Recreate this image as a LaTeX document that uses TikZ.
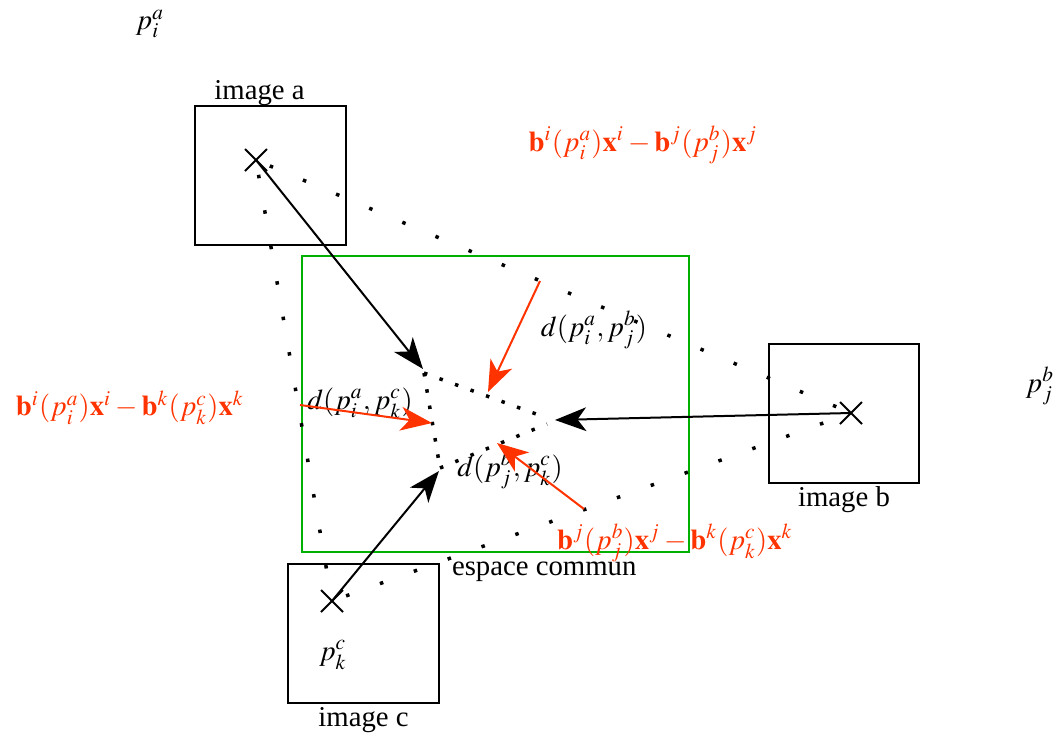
\documentclass[tikz,border=0pt]{standalone}
\usepackage{mathptmx}
\usepackage[no-math]{fontspec}
\setmainfont{Liberation Serif}
\usepackage{tikz}
\usetikzlibrary{arrows.meta,positioning,shapes.misc}
\definecolor{espred}{HTML}{FF3300}
\definecolor{espgreen}{HTML}{00B000}
\tikzset{
  esp/img/.style={
    draw=black, line width=0.8pt, inner sep=0pt,
    minimum width=60pt, minimum height=55.6pt
  },
  esp/common/.style={
    draw=espgreen, line width=0.8pt, inner sep=0pt,
    minimum width=154.8pt, minimum height=118.4pt
  },
  esp/cross/.style={draw=black, cross out, line width=0.8pt, minimum size=8pt, inner sep=0pt},
  esp/label/.style={inner sep=1pt},
  esp/dots/.style={line width=1.4pt, dash pattern=on 1.4pt off 13pt, dash phase=-6pt},
  esp/fine/.style={line width=1.4pt, dash pattern=on 1.4pt off 5.2pt},
  esp/arr/.style={-{Stealth[length=12.5pt, width=9.5pt, inset=3.5pt]}, black, line width=0.8pt},
  esp/rarr/.style={-{Stealth[length=12.5pt, width=9.5pt, inset=3.5pt]}, espred, line width=0.8pt}
}

\begin{document}
\begin{tikzpicture}[x=0.4pt, y=-0.4pt, font=\fontsize{11.5}{13}\selectfont]
  \useasboundingbox (0,0) rectangle (1056,734);

  % espace commun et images
  \node[esp/common] (esp) at (495.5,404) {};
  \node[esp/img] (imga) at (270.5,175) {};
  \node[esp/img] (imgb) at (844,413.5) {};
  \node[esp/img] (imgc) at (363.5,633.5) {};

  \node[esp/label, above=-1.5pt of imga, xshift=-4.4pt] (laba) {image a};
  \node[esp/label, below=0pt of imgb] (labb) {image b};
  \node[esp/label, below=0pt of imgc] (labc) {image c};
  \node[esp/label, anchor=west] (labesp) at (449,572) {espace commun};

  % points et projections
  \node[esp/cross] (xa) at (256,160) {};
  \node[esp/cross] (xb) at (851,413) {};
  \node[esp/cross] (xc) at (332,601) {};
  \coordinate (ta) at (423,369);
  \coordinate (tb) at (555,420);
  \coordinate (tc) at (439,471);

  \node (pa) at (150,24) {$p^a_i$};
  \node (pb) at (1040,386) {$p^b_j$};
  \node (pc) at (333,655) {$p^c_k$};

  % lignes pointillees
  \draw[esp/dots] (xa.center) -- (xb.center);
  \draw[esp/dots] (xa.center) -- (xc.center);
  \draw[esp/dots] (xc.center) -- (xb.center);
  \draw[esp/fine] (424,373) -- (547,418);
  \draw[esp/fine] (424,373) -- (440,468);
  \draw[esp/fine] (440,468) -- (547,424);

  % distances
  \node (dab) at (594,330) {$d(p^a_i,p^b_j)$};
  \node (dac) at (360,403) {$d(p^a_i,p^c_k)$};
  \node (dbc) at (510,470) {$d(p^b_j,p^c_k)$};

  % fleches
  \draw[esp/arr] (xa.center) -- (ta);
  \draw[esp/arr] (xb.center) -- (tb);
  \draw[esp/arr] (xc.center) -- (tc);

  \coordinate (rab) at (540,281);
  \coordinate (rac) at (300,405);
  \coordinate (rbc) at (584,509);
  \draw[esp/rarr] (rab) -- (488,392);
  \draw[esp/rarr] (rac) -- (432,423);
  \draw[esp/rarr] (rbc) -- (497,443);

  \node[text=espred] (eab) at (643,145)
    {$\mathbf{b}^i(p^a_i)\mathbf{x}^i-\mathbf{b}^j(p^b_j)\mathbf{x}^j$};
  \node[text=espred] (eac) at (130,408)
    {$\mathbf{b}^i(p^a_i)\mathbf{x}^i-\mathbf{b}^k(p^c_k)\mathbf{x}^k$};
  \node[text=espred] (ebc) at (675,543)
    {$\mathbf{b}^j(p^b_j)\mathbf{x}^j-\mathbf{b}^k(p^c_k)\mathbf{x}^k$};
\end{tikzpicture}
\end{document}
